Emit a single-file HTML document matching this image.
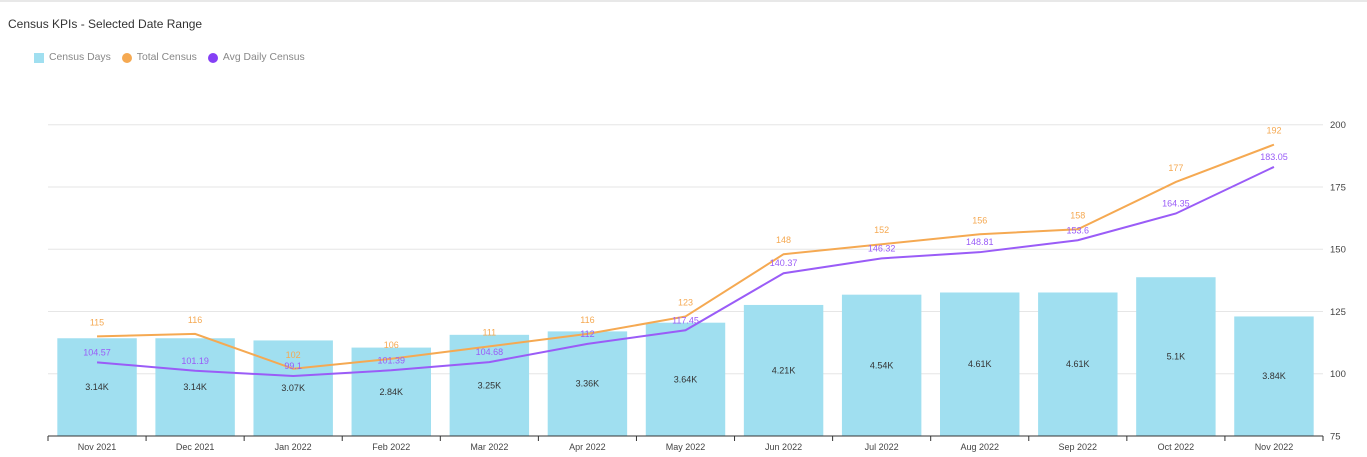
<!DOCTYPE html>
<html><head><meta charset="utf-8"><style>
body{margin:0;background:#fff;font-family:"Liberation Sans",sans-serif;}
#wrap{position:relative;width:1367px;height:457px;overflow:hidden;border-top:2px solid #e8e8e8;box-sizing:border-box}
.title{position:absolute;left:8px;top:15px;font-size:12px;color:#333}
.legend{position:absolute;left:34px;top:50px;font-size:10.4px;color:#888;display:flex;gap:11px;align-items:center}
.legend span{display:flex;align-items:center;gap:5px}
</style></head><body>
<div id="wrap">
<div class="title">Census KPIs - Selected Date Range</div>
<div class="legend">
<span><i style="width:10px;height:10px;background:#a0dff0;display:inline-block"></i>Census Days</span>
<span><i style="width:10px;height:10px;border-radius:50%;background:#f5a952;display:inline-block"></i>Total Census</span>
<span><i style="width:10px;height:10px;border-radius:50%;background:#8540f5;display:inline-block"></i>Avg Daily Census</span>
</div>
<svg id="chart" width="1367" height="457" style="position:absolute;left:0;top:-2px"></svg>
</div>
<script>
const categories=["Nov 2021","Dec 2021","Jan 2022","Feb 2022","Mar 2022","Apr 2022","May 2022","Jun 2022","Jul 2022","Aug 2022","Sep 2022","Oct 2022","Nov 2022"];
const censusDays=[3.14,3.14,3.07,2.84,3.25,3.36,3.64,4.21,4.54,4.61,4.61,5.1,3.84];
const censusDaysLabels=["3.14K","3.14K","3.07K","2.84K","3.25K","3.36K","3.64K","4.21K","4.54K","4.61K","4.61K","5.1K","3.84K"];
const totalCensus=[115,116,102,106,111,116,123,148,152,156,158,177,192];
const avgDaily=[104.57,101.19,99.1,101.39,104.68,112,117.45,140.37,146.32,148.81,153.6,164.35,183.05];
const rightTicks=[75,100,125,150,175,200];
const ns="http://www.w3.org/2000/svg",svg=document.getElementById('chart');
const L=48,R=1323,T=124.7,B=436,bw=(R-L)/categories.length;
const yR=v=>B-(v-75)/125*(B-T);
const yL=v=>B-v/10*(B-T);
const xc=i=>L+bw*(i+0.5);
function mk(t,a,txt){const e=document.createElementNS(ns,t);for(const k in a)e.setAttribute(k,a[k]);if(txt!=null)e.textContent=txt;svg.appendChild(e);return e;}
rightTicks.forEach(t=>{
 if(t>75){const g=mk('line',{x1:L,x2:R,y1:yR(t),y2:yR(t),stroke:'#e6e6e6'});
 
 }
 const tx=mk('text',{x:R+7,y:yR(t)+3.5,'font-size':9.5,fill:'#444'},t);
 
 
});
censusDays.forEach((v,i)=>{
 const w=bw*0.81,y=yL(v);
 const r=mk('rect',{x:xc(i)-w/2,y:y,width:w,height:B-y,fill:'#a0dff0'});
 
 
 const t=mk('text',{x:xc(i),y:(y+B)/2+3,'font-size':9,fill:'#333','text-anchor':'middle'},censusDaysLabels[i]);
 
 
});
const ax=mk('line',{x1:L,x2:R,y1:B,y2:B,stroke:'#333'});


categories.forEach((c,i)=>{
 const tk=mk('line',{x1:L+bw*i,x2:L+bw*i,y1:B,y2:B+5,stroke:'#333'});
 
 
 const t=mk('text',{x:xc(i),y:B+14,'font-size':9,fill:'#444','text-anchor':'middle'},c);
 
 
});
const tk2=mk('line',{x1:R,x2:R,y1:B,y2:B+5,stroke:'#333'});


function line(vals,color,name,dy){
 const p=mk('polyline',{points:vals.map((v,i)=>xc(i)+','+yR(v)).join(' '),fill:'none',stroke:color,'stroke-width':2});
 
 
 vals.forEach((v,i)=>{
  const t=mk('text',{x:xc(i),y:yR(v)+dy,'font-size':9,fill:color,'text-anchor':'middle'},v);
  
  
 });
}
line(totalCensus,'#f5a952','total-census-line',-11);
line(avgDaily,'#9a5cf7','avg-daily-census-line',-7);
</script>
</body></html>
